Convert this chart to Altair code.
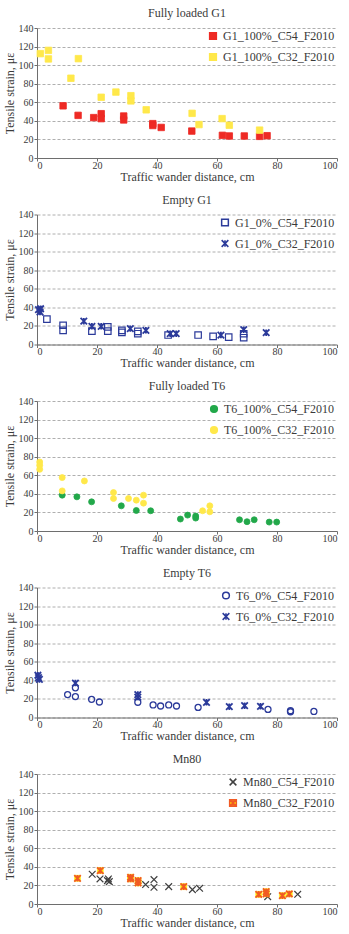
import altair as alt
import pandas as pd

FONT = "Liberation Serif"
TXT = "#3a3a3a"

X_TICKS = [0, 20, 40, 60, 80, 100]
Y_TICKS = [0, 20, 40, 60, 80, 100, 120, 140]

# ---------------- data ----------------
# Fully loaded G1
g1_100_c54_x = [8.7, 13.7, 18.9, 21.4, 21.4, 28.9, 28.9, 38.6, 38.6, 41.4, 51.6, 61.8, 64.1, 69.1, 74.2, 76.7]
g1_100_c54_y = [56.2, 45.9, 43.5, 47.7, 42.4, 45.2, 41.0, 37.0, 35.0, 32.9, 29.0, 24.4, 23.7, 23.7, 23.3, 24.0]
g1_100_c32_x = [1.1, 3.8, 3.8, 13.8, 11.3, 21.4, 26.3, 31.3, 31.3, 36.4, 51.7, 54.0, 61.7, 64.1, 74.2]
g1_100_c32_y = [112.4, 115.9, 106.7, 107.0, 85.9, 65.4, 71.0, 67.1, 61.5, 51.9, 48.1, 36.0, 42.4, 35.3, 30.0]

# Empty G1
g1_0_c54_x = [3.3, 8.7, 8.7, 18.3, 23.6, 23.6, 28.3, 28.3, 33.6, 33.6, 43.7, 53.7, 58.7, 63.9, 68.9, 68.9]
g1_0_c54_y = [27.3, 20.7, 15.3, 14.5, 18.9, 14.5, 15.3, 13.0, 14.2, 11.6, 10.2, 10.2, 8.7, 8.0, 11.6, 7.3]
g1_0_c32_x = [0.5, 1.0, 1.2, 15.6, 18.3, 21.4, 31.1, 36.3, 44.4, 46.4, 61.3, 68.9, 76.4]
g1_0_c32_y = [37.5, 35.0, 38.5, 25.1, 19.6, 19.6, 17.1, 15.3, 11.6, 11.6, 10.2, 16.0, 12.7]

# Fully loaded T6
t6_100_c54_x = [8.4, 13.3, 18.2, 28.1, 33.1, 37.9, 47.8, 50.2, 52.9, 52.9, 67.5, 70.0, 72.4, 77.4, 79.9]
t6_100_c54_y = [38.6, 36.8, 31.4, 27.1, 22.1, 21.8, 12.9, 17.1, 16.1, 13.9, 12.1, 10.0, 12.1, 9.6, 9.6]
t6_100_c32_x = [0.9, 0.9, 0.9, 8.4, 8.4, 15.8, 25.5, 25.5, 30.5, 33.1, 35.5, 35.5, 55.2, 57.6, 57.6]
t6_100_c32_y = [74.3, 70.7, 66.4, 57.5, 43.2, 53.9, 41.4, 35.0, 35.0, 33.2, 38.6, 30.0, 21.8, 27.1, 20.7]

# Empty T6
t6_0_c54_x = [10.2, 12.8, 12.8, 18.2, 20.8, 33.6, 38.7, 41.2, 43.9, 46.5, 53.7, 77.0, 84.5, 84.5, 92.3]
t6_0_c54_y = [24.7, 22.5, 32.0, 19.6, 16.7, 16.4, 13.5, 12.4, 13.5, 12.4, 10.9, 8.7, 7.3, 6.2, 6.5]
t6_0_c32_x = [0.3, 0.5, 0.8, 12.8, 33.6, 33.6, 56.5, 64.1, 69.2, 74.5]
t6_0_c32_y = [45.5, 43.0, 41.0, 37.1, 24.7, 22.0, 16.4, 11.6, 12.7, 12.0]

# Mn80
mn80_c54_x = [18.4, 21.0, 23.5, 23.8, 24.1, 36.2, 39.0, 39.0, 43.9, 51.8, 54.2, 76.9, 86.9]
mn80_c54_y = [32.0, 27.0, 25.2, 27.0, 24.1, 20.9, 26.3, 18.0, 18.7, 15.5, 16.9, 7.9, 10.4]
mn80_c32_x = [13.5, 21.1, 31.2, 31.2, 33.7, 33.7, 48.9, 73.9, 76.4, 76.4, 81.8, 84.1]
mn80_c32_y = [27.7, 36.0, 28.8, 27.0, 25.2, 22.7, 18.7, 10.4, 13.3, 11.0, 9.0, 10.8]

# ---------------- styles ----------------
RED = "#ee2a24"
YEL = "#ffe84a"
GREEN = "#22a84a"
BLUE = "#2b3a9a"
GREY = "#404040"
ORANGE = "#f15a24"
MNYEL = "#ffe600"

STAR = "M-1,-1L1,1M-1,1L1,-1M0,-1L0,1"
XMARK = "M-1,-1L1,1M-1,1L1,-1"
STAR_BOX = "M-1,-1H1V1H-1Z M-1,-1L1,1M-1,1L1,-1M0,-1L0,1"

X_ENC = alt.X("x:Q", scale=alt.Scale(domain=[0, 100], nice=False),
              axis=alt.Axis(values=X_TICKS, title="Traffic wander distance, cm", grid=False,
                            labelOverlap=False))
Y_ENC = alt.Y("y:Q", scale=alt.Scale(domain=[0, 140], nice=False),
              axis=alt.Axis(values=Y_TICKS, title="Tensile strain, με", grid=True,
                            labelOverlap=False))


def series_layer(name, xs, ys, shape, fill, stroke, size, sw):
    df = pd.DataFrame({"series": name, "x": xs, "y": ys})
    return alt.Chart(df).mark_point(
        shape=shape, fill=fill, stroke=stroke, size=size, strokeWidth=sw,
        opacity=1, fillOpacity=1, strokeOpacity=1,
    ).encode(x=X_ENC, y=Y_ENC)


def panel(title, legend_items, layers):
    names = [it[0] for it in legend_items]
    shapes = [it[1] for it in legend_items]
    fills = [it[2] for it in legend_items]
    strokes = [it[3] for it in legend_items]
    leg = alt.Legend(title=None, orient="top-right", offset=2)
    ldf = pd.DataFrame({"series": names, "x": [0] * len(names), "y": [0] * len(names)})
    legend_layer = alt.Chart(ldf).transform_filter("false").mark_point(
        size=45, strokeWidth=1.4, opacity=1
    ).encode(
        x=X_ENC, y=Y_ENC,
        shape=alt.Shape("series:N", scale=alt.Scale(domain=names, range=shapes), legend=leg),
        fill=alt.Fill("series:N", scale=alt.Scale(domain=names, range=fills), legend=leg),
        stroke=alt.Stroke("series:N", scale=alt.Scale(domain=names, range=strokes), legend=leg),
    )
    return alt.layer(legend_layer, *layers).properties(
        width=300, height=130, title=alt.TitleParams(title)
    )


p1 = panel(
    "Fully loaded G1",
    [("G1_100%_C54_F2010", "square", RED, RED), ("G1_100%_C32_F2010", "square", YEL, YEL)],
    [series_layer("c54", g1_100_c54_x, g1_100_c54_y, "square", RED, RED, 42, 0.8),
     series_layer("c32", g1_100_c32_x, g1_100_c32_y, "square", YEL, YEL, 42, 0.8)],
)
p2 = panel(
    "Empty G1",
    [("G1_0%_C54_F2010", "square", "transparent", BLUE), ("G1_0%_C32_F2010", STAR, "transparent", BLUE)],
    [series_layer("c54", g1_0_c54_x, g1_0_c54_y, "square", "transparent", BLUE, 42, 1.2),
     series_layer("c32", g1_0_c32_x, g1_0_c32_y, STAR, "transparent", BLUE, 42, 1.8)],
)
p3 = panel(
    "Fully loaded T6",
    [("T6_100%_C54_F2010", "circle", GREEN, GREEN), ("T6_100%_C32_F2010", "circle", YEL, YEL)],
    [series_layer("c54", t6_100_c54_x, t6_100_c54_y, "circle", GREEN, GREEN, 36, 0.8),
     series_layer("c32", t6_100_c32_x, t6_100_c32_y, "circle", YEL, YEL, 36, 0.8)],
)
p4 = panel(
    "Empty T6",
    [("T6_0%_C54_F2010", "circle", "transparent", BLUE), ("T6_0%_C32_F2010", STAR, "transparent", BLUE)],
    [series_layer("c54", t6_0_c54_x, t6_0_c54_y, "circle", "transparent", BLUE, 36, 1.3),
     series_layer("c32", t6_0_c32_x, t6_0_c32_y, STAR, "transparent", BLUE, 42, 1.8)],
)
p5 = panel(
    "Mn80",
    [("Mn80_C54_F2010", XMARK, "transparent", GREY), ("Mn80_C32_F2010", STAR_BOX, MNYEL, ORANGE)],
    [series_layer("c54", mn80_c54_x, mn80_c54_y, XMARK, "transparent", GREY, 45, 1.2),
     series_layer("c32b", mn80_c32_x, mn80_c32_y, "square", MNYEL, MNYEL, 36, 0.5),
     series_layer("c32", mn80_c32_x, mn80_c32_y, STAR, "transparent", ORANGE, 42, 1.8)],
)

chart = alt.vconcat(p1, p2, p3, p4, p5, spacing=11.5).resolve_scale(
    shape="independent", fill="independent", stroke="independent"
).resolve_legend(
    shape="independent", fill="independent", stroke="independent"
).configure(
    padding={"left": 3, "top": 7, "right": 5, "bottom": 5},
    background="white",
).configure_view(stroke=None).configure_axis(
    labelFont=FONT, labelFontSize=10, labelColor=TXT, labelOverlap=False,
    titleFont=FONT, titleFontSize=12, titleFontWeight="normal", titleColor=TXT,
    domainColor="#6e6e6e", tickColor="#6e6e6e", tickSize=3,
    gridColor="#9a9a9a", gridDash=[3, 2], gridWidth=0.8,
).configure_axisX(labelPadding=-1, titlePadding=1).configure_axisY(
    labelPadding=1, titlePadding=2
).configure_legend(
    labelFont=FONT, labelFontSize=12, labelColor=TXT, symbolSize=45,
    rowPadding=7, labelOffset=4, padding=0, labelLimit=400,
).configure_title(
    font=FONT, fontSize=12, fontWeight="normal", color=TXT, offset=3, anchor="middle"
)

chart.save("out.html", embed_options={"renderer": "svg", "actions": False})
